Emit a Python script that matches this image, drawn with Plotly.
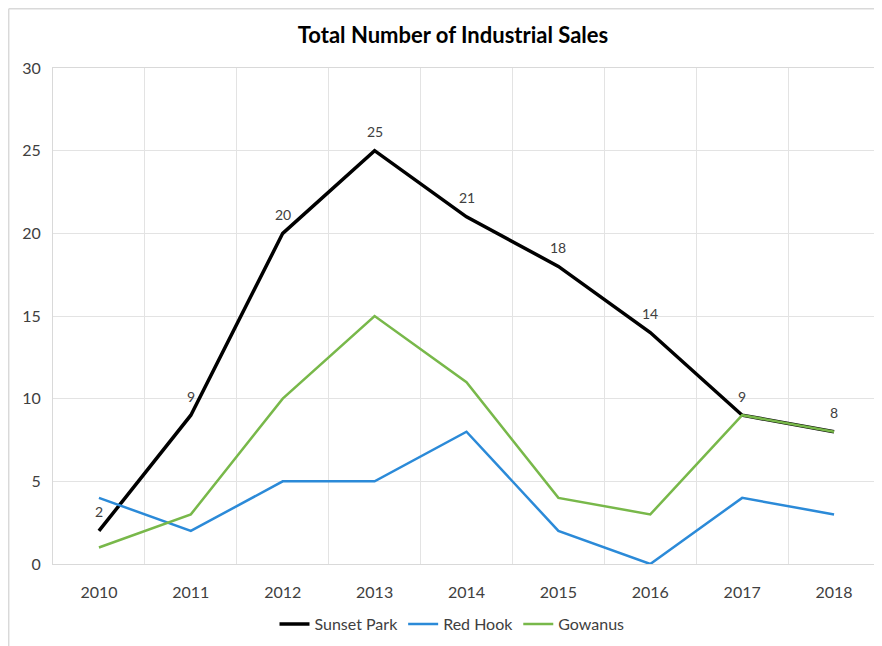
import plotly.graph_objects as go

years = ["2010", "2011", "2012", "2013", "2014", "2015", "2016", "2017", "2018"]
sunset_park = [2, 9, 20, 25, 21, 18, 14, 9, 8]
red_hook = [4, 2, 5, 5, 8, 2, 0, 4, 3]
gowanus = [1, 3, 10, 15, 11, 4, 3, 9, 8]
y_ticks = [0, 5, 10, 15, 20, 25, 30]

FONT = "Lato, 'Open Sans', sans-serif"
xs = list(range(len(years)))

fig = go.Figure()
fig.add_trace(go.Scatter(x=xs, y=sunset_park, mode="lines", name="Sunset Park",
                         line=dict(color="#000000", width=3.5)))
fig.add_trace(go.Scatter(x=xs, y=red_hook, mode="lines", name="Red Hook",
                         line=dict(color="#2b8ad8", width=2.5)))
fig.add_trace(go.Scatter(x=xs, y=gowanus, mode="lines", name="Gowanus",
                         line=dict(color="#78b84a", width=2.5)))

for x, v in zip(xs, sunset_park):
    fig.add_annotation(x=x, y=v, text=str(v), showarrow=False, yshift=19,
                       font=dict(family=FONT, size=14, color="#404040"))

OFF = 8  # page body margin
W, H = 874, 638
ml, mr, mt, mb = 45, 2, 60, 82
pw, ph = W - ml - mr, H - mt - mb

def px(xp):
    return (xp - OFF - ml) / pw

def py(yp):
    return (H + OFF - mb - yp) / ph

# outer chart frame: top and left edges only
fig.add_shape(type="line", xref="paper", yref="paper",
              x0=px(8.7), x1=px(882), y0=py(8.7), y1=py(8.7),
              line=dict(color="#d9d9d9", width=1.5), layer="below")
fig.add_shape(type="line", xref="paper", yref="paper",
              x0=px(8.7), x1=px(8.7), y0=py(8.7), y1=py(646),
              line=dict(color="#d9d9d9", width=1.5), layer="below")

fig.update_layout(
    width=W, height=H,
    margin=dict(l=ml, r=mr, t=mt, b=mb),
    paper_bgcolor="white", plot_bgcolor="white",
    title=dict(text="<b>Total Number of Industrial Sales</b>", x=(453 - OFF) / W,
               xanchor="center", y=1 - (35 - OFF) / H, yanchor="middle",
               font=dict(family=FONT, size=22, color="#000000")),
    font=dict(family=FONT, size=15, color="#595959"),
    showlegend=True,
    legend=dict(orientation="h", x=px(452), xanchor="center", y=py(624), yanchor="middle",
                font=dict(family=FONT, size=16, color="#404040"),
                itemwidth=30, tracegroupgap=0),
    xaxis=dict(range=[-0.5, 8.5], tickmode="array", tickvals=xs, ticktext=years,
               showgrid=False, zeroline=False, ticks="", ticklen=0,
               tickfont=dict(size=16, color="#404040"), ticklabelstandoff=14,
               showline=True, linecolor="#d9d9d9", linewidth=1, mirror=True,
               minor=dict(tick0=-0.5, dtick=1, showgrid=True, gridcolor="#e3e3e3", gridwidth=1)),
    yaxis=dict(range=[0, 30], tickmode="array", tickvals=y_ticks,
               showgrid=True, gridcolor="#e3e3e3", gridwidth=1, zeroline=False,
               tickfont=dict(size=16, color="#404040"), ticks="", ticklabelstandoff=8,
               showline=True, linecolor="#d9d9d9", linewidth=1, mirror=True),
)

fig.write_html("out.html")
